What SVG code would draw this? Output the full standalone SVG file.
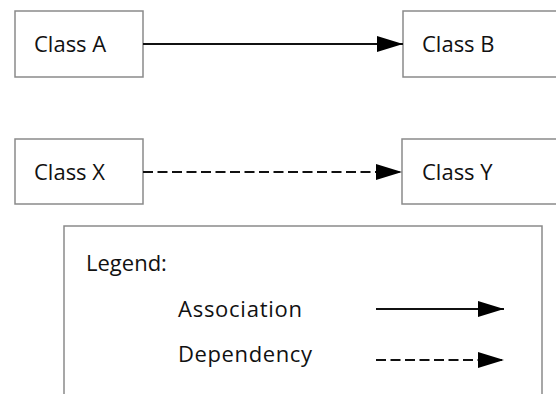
<svg xmlns="http://www.w3.org/2000/svg" width="556" height="394" viewBox="0 0 556 394">
<style>
.box{fill:#fff;stroke:#8a8a8a;stroke-width:1.5}
.t{font-family:"Open Sans","Liberation Sans",sans-serif;font-size:22px;fill:#111}
.ln{stroke:#111;stroke-width:2;fill:none}
.dash{stroke-dasharray:10 4.5}
</style>
<defs>
<marker id="ah" markerUnits="userSpaceOnUse" markerWidth="26" markerHeight="18" refX="26" refY="9" orient="auto">
<path d="M0,1 L26,9 L0,17 Z" fill="#000"/>
</marker>
</defs>
<rect width="556" height="394" fill="#fff"/>
<g id="classA"><rect class="box" x="15" y="11" width="128" height="66"/><text class="t" x="34" y="52">Class A</text></g>
<g id="classB"><rect class="box" x="403" y="11" width="160" height="66"/><text class="t" x="422" y="52">Class B</text></g>
<g id="classX"><rect class="box" x="15" y="139" width="128" height="65"/><text class="t" x="34" y="180">Class X</text></g>
<g id="classY"><rect class="box" x="402" y="139" width="160" height="65"/><text class="t" x="422" y="180">Class Y</text></g>
<g id="legend">
<path class="box" d="M64,400 V226 H542 V400"/>
<text class="t" x="86" y="271">Legend:</text>
<text class="t" x="178" y="317" textLength="124">Association</text>
<text class="t" x="178" y="362" textLength="134">Dependency</text>
<line class="ln" x1="376" y1="309" x2="504" y2="309" marker-end="url(#ah)"/>
<line class="ln dash" x1="376" y1="360" x2="504" y2="360" marker-end="url(#ah)"/>
</g>
<g id="connectors">
<line class="ln" x1="143" y1="44" x2="403" y2="44" marker-end="url(#ah)"/>
<line class="ln dash" x1="143" y1="172" x2="402" y2="172" marker-end="url(#ah)"/>
</g>
</svg>
